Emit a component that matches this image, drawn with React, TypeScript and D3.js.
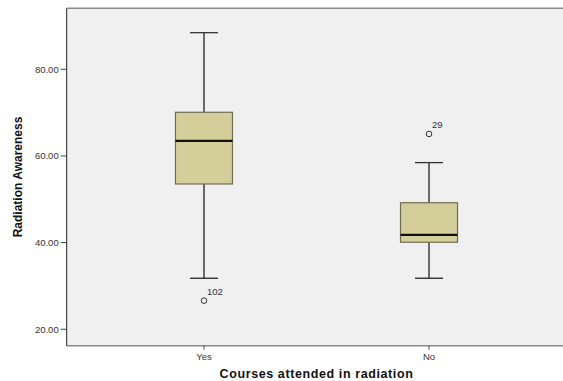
import React from "react";
import * as d3 from "d3";

// Box summaries per group: whisker low, Q1, median, Q3, whisker high
const categories = ["Yes", "No"];
const whiskerLow = [31.77, 31.77];
const q1 = [53.53, 40.08];
const median = [63.46, 41.76];
const q3 = [70.08, 49.2];
const whiskerHigh = [88.45, 58.46];

// Outliers: group, value, case label
const outlierGroup = ["Yes", "No"];
const outlierValue = [26.6, 65.07];
const outlierLabel = ["102", "29"];

const yTicks = [20, 40, 60, 80];

const W = 563;
const H = 381;
const left = 66.7;
const right = 566.3;
const top = 8.3;
const bottom = 345.7;

export default function App() {
  const y = d3.scaleLinear().domain([16.2, 94.08]).range([bottom, top]);
  const x = d3.scalePoint<string>().domain(categories).range([left, right]).padding(0.61);
  const boxW = 57;
  const capW = 28;
  const font = "'Liberation Sans', Arial, sans-serif";

  return (
    <svg
      width={W}
      height={H}
      style={{ position: "absolute", left: 0, top: 0, background: "#ffffff" }}
      fontFamily={font}
    >
      <rect x={left} y={top} width={right - left} height={bottom - top} fill="#f0f0f0" />
      {/* frame */}
      <line x1={left} x2={right} y1={top} y2={top} stroke="#8a8a8a" strokeWidth={1.5} />
      <line x1={left} x2={right} y1={bottom} y2={bottom} stroke="#8a8a8a" strokeWidth={1.5} />
      <line x1={left} x2={left} y1={top} y2={bottom} stroke="#222" strokeWidth={1} />

      {/* y axis ticks */}
      {yTicks.map((t) => (
        <g key={t}>
          <line x1={left - 6} x2={left} y1={y(t)} y2={y(t)} stroke="#444" strokeWidth={1} />
          <text x={left - 8} y={y(t)} dy="0.35em" textAnchor="end" fontSize={9.5} fill="#333">
            {t.toFixed(2)}
          </text>
        </g>
      ))}

      {/* x axis ticks */}
      {categories.map((c) => (
        <g key={c}>
          <line x1={x(c)} x2={x(c)} y1={bottom} y2={bottom + 4} stroke="#444" strokeWidth={1} />
          <text x={x(c)} y={bottom + 14} textAnchor="middle" fontSize={9.5} fill="#333">
            {c}
          </text>
        </g>
      ))}

      {/* boxes */}
      {categories.map((c, i) => {
        const cx = x(c) as number;
        return (
          <g key={c}>
            <line x1={cx} x2={cx} y1={y(whiskerHigh[i])} y2={y(q3[i])} stroke="#222" strokeWidth={1.3} />
            <line x1={cx} x2={cx} y1={y(q1[i])} y2={y(whiskerLow[i])} stroke="#222" strokeWidth={1.3} />
            <line x1={cx - capW / 2} x2={cx + capW / 2} y1={y(whiskerHigh[i])} y2={y(whiskerHigh[i])} stroke="#333" strokeWidth={1.3} />
            <line x1={cx - capW / 2} x2={cx + capW / 2} y1={y(whiskerLow[i])} y2={y(whiskerLow[i])} stroke="#222" strokeWidth={1.3} />
            <rect
              x={cx - boxW / 2}
              y={y(q3[i])}
              width={boxW}
              height={y(q1[i]) - y(q3[i])}
              fill="#d4cf9a"
              stroke="#6e6c52"
              strokeWidth={1.2}
            />
            <line x1={cx - boxW / 2} x2={cx + boxW / 2} y1={y(median[i])} y2={y(median[i])} stroke="#111" strokeWidth={2.2} />
          </g>
        );
      })}

      {/* outliers */}
      {outlierValue.map((v, i) => {
        const cx = x(outlierGroup[i]) as number;
        return (
          <g key={i}>
            <circle cx={cx} cy={y(v)} r={2.8} fill="none" stroke="#333" strokeWidth={1} />
            <text x={cx + 3} y={y(v) - 6} fontSize={9.5} fill="#333">
              {outlierLabel[i]}
            </text>
          </g>
        );
      })}

      {/* axis titles */}
      <text
        transform={`translate(22, ${(top + bottom) / 2}) rotate(-90)`}
        textAnchor="middle"
        fontSize={12}
        fontWeight="bold"
        fill="#111"
      >
        Radiation Awareness
      </text>
      <text x={316.5} y={378} textAnchor="middle" fontSize={12.5} fontWeight="bold" fill="#111" letterSpacing={0.6}>
        Courses attended in radiation
      </text>
    </svg>
  );
}
